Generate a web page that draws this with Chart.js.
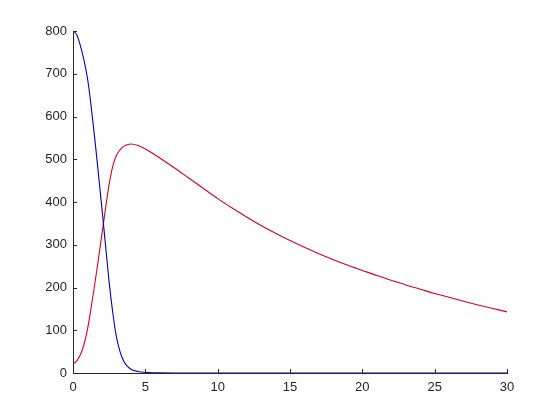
<!DOCTYPE html>
<html>
<head>
<meta charset="utf-8">
<script src="https://cdn.jsdelivr.net/npm/chart.js@4/dist/chart.umd.min.js"></script>
<style>
  html, body { margin: 0; padding: 0; background: #ffffff; }
  canvas { display: block; }
</style>
</head>
<body>
<canvas id="c" width="560" height="420"></canvas>
<script>
// ---- data ----
const xValues = [0, 0.25, 0.5, 0.75, 1, 1.25, 1.5, 1.75, 2, 2.25, 2.5, 2.75, 3, 3.25, 3.5, 3.75, 4, 4.5, 5, 5.5, 6,
  7, 8, 9, 10, 11, 12, 13, 14, 15, 16, 17, 18, 19, 20, 21, 22, 23, 24, 25, 26, 27, 28, 29, 30];
const blueValues = [800, 792, 767, 733, 690, 625, 550, 468, 385, 298, 212, 141, 85, 50, 28, 16, 9, 3.5, 1.5, 0.6, 0.2,
  0, 0, 0, 0, 0, 0, 0, 0, 0, 0, 0, 0, 0, 0, 0, 0, 0, 0, 0, 0, 0, 0, 0, 0];
const redValues = [21, 28, 42, 66, 102, 152, 207, 265, 325, 385, 442, 484, 509, 522, 530, 534, 535.5, 532, 524, 514, 503,
  480, 456, 432, 408, 386, 365, 345, 327, 310, 294, 279, 265, 252, 240, 228, 217, 206, 196, 186, 177, 168, 159, 151, 143];
const xTicks = [0, 5, 10, 15, 20, 25, 30];
const yTicks = [0, 100, 200, 300, 400, 500, 600, 700, 800];

const toPoints = ys => xValues.map((x, i) => ({ x: x, y: ys[i] }));
const axisColor = '#262626';

const inwardTicks = {
  id: 'inwardTicks',
  afterDatasetsDraw(chart) {
    const ctx = chart.ctx;
    const xs = chart.scales.x, ys = chart.scales.y;
    const area = chart.chartArea;
    ctx.save();
    ctx.strokeStyle = axisColor;
    ctx.lineWidth = 1;
    ctx.beginPath();
    xTicks.forEach(v => {
      const p = Math.round(xs.getPixelForValue(v)) + 0.5;
      ctx.moveTo(p, area.bottom);
      ctx.lineTo(p, area.bottom - 4);
    });
    yTicks.forEach(v => {
      const p = Math.round(ys.getPixelForValue(v)) + 0.5;
      ctx.moveTo(area.left, p);
      ctx.lineTo(area.left + 4, p);
    });
    ctx.stroke();
    ctx.restore();
  }
};

new Chart(document.getElementById('c'), {
  type: 'line',
  data: {
    datasets: [
      { data: toPoints(blueValues), borderColor: '#0000c8', borderWidth: 1.1, pointRadius: 0, cubicInterpolationMode: 'monotone', fill: false },
      { data: toPoints(redValues), borderColor: '#d8001c', borderWidth: 1.1, pointRadius: 0, cubicInterpolationMode: 'monotone', fill: false }
    ]
  },
  options: {
    responsive: false,
    animation: false,
    layout: { padding: { left: 0, right: 53, top: 31, bottom: 0 } },
    plugins: { legend: { display: false }, tooltip: { enabled: false } },
    scales: {
      x: {
        type: 'linear', min: 0, max: 30,
        afterFit(scale) { scale.height = 47; },
        afterBuildTicks(scale) { scale.ticks = xTicks.map(v => ({ value: v })); },
        grid: { display: true, drawOnChartArea: false, drawTicks: false },
        border: { display: true, color: axisColor, width: 1 },
        ticks: { color: axisColor, padding: 7, maxRotation: 0, font: { family: 'Liberation Sans, Arial, sans-serif', size: 13 } }
      },
      y: {
        type: 'linear', min: 0, max: 800,
        afterFit(scale) { scale.width = 73; },
        afterBuildTicks(scale) { scale.ticks = yTicks.map(v => ({ value: v })); },
        grid: { display: true, drawOnChartArea: false, drawTicks: false },
        border: { display: true, color: axisColor, width: 1 },
        ticks: { color: axisColor, padding: 6, font: { family: 'Liberation Sans, Arial, sans-serif', size: 13 } }
      }
    }
  },
  plugins: [inwardTicks]
});
</script>
</body>
</html>
